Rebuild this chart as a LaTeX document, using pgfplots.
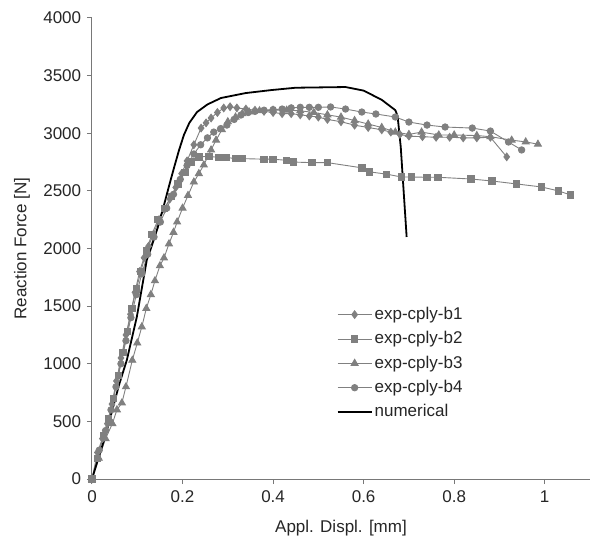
\documentclass[border=0pt]{standalone}
\usepackage{pgfplots}
\pgfplotsset{compat=1.18}
\usepackage{fontspec}
\setmainfont{Liberation Sans}
\definecolor{sgray}{RGB}{128,128,128}
\definecolor{agray}{RGB}{120,120,120}
\begin{document}
\fontsize{17}{20}\selectfont
\begin{tikzpicture}
\begin{axis}[
  scale only axis,
  width=498pt, height=461pt,
  xmin=0, xmax=1.1, ymin=0, ymax=4000,
  axis lines=left,
  axis line style={agray, line width=1pt, -},
  xtick={0,0.2,0.4,0.6,0.8,1},
  ytick={0,500,1000,1500,2000,2500,3000,3500,4000},
  xticklabels={0,0.2,0.4,0.6,0.8,1},
  yticklabels={0,500,1000,1500,2000,2500,3000,3500,4000},
  tick style={agray, line width=1pt},
  tick align=outside,
  major tick length=5pt,
  tick label style={font=\fontsize{17}{20}\selectfont, text=black!85},
  xticklabel style={yshift=-1pt},
  /pgf/number format/assume math mode=true,
  xlabel={Appl. Displ. [mm]},
  ylabel={Reaction Force [N]},
  label style={font=\fontsize{17}{20}\selectfont, text=black!85},
  xlabel style={yshift=-6pt},
  ylabel style={yshift=2pt},
  legend style={at={(axis cs:0.54,1510)}, anchor=north west, draw=none, fill=none,
    font=\fontsize{17}{20}\selectfont, text=black!85, row sep=5.5pt,
    inner sep=0pt},
  legend cell align=left,
  legend image code/.code={\draw[mark repeat=2,mark phase=2] plot coordinates {(0cm,0cm) (0.6cm,0cm) (1.2cm,0cm)};},
  clip=false,
]
\coordinate (o) at (rel axis cs:0,0);
\coordinate (t) at (rel axis cs:1,1);
\addplot[sgray, line width=0.9pt, mark=diamond*, mark size=3.8pt, mark options={fill=sgray, draw=sgray}] coordinates {
(0,0) (0.012,230) (0.023,350) (0.034,480) (0.044,650) (0.054,850) (0.064,1050) (0.075,1250) (0.085,1430) (0.095,1620) (0.105,1800) (0.115,1920) (0.125,2020) (0.135,2120) (0.148,2250) (0.16,2340) (0.172,2430) (0.185,2530) (0.198,2650) (0.21,2760) (0.225,2900) (0.241,3045) (0.252,3090) (0.263,3132) (0.277,3180) (0.291,3219) (0.305,3230) (0.32,3220) (0.34,3210) (0.36,3200) (0.38,3190) (0.40,3180) (0.42,3170) (0.44,3170) (0.46,3160) (0.48,3150) (0.50,3140) (0.52,3120) (0.55,3100) (0.58,3070) (0.61,3050) (0.64,3030) (0.66,3010) (0.68,2990) (0.70,2975) (0.73,2970) (0.76,2965) (0.79,2965) (0.82,2960) (0.85,2960) (0.88,2965) (0.916,2795)
};
\addlegendentry{exp-cply-b1}
\addplot[sgray, line width=0.9pt, mark=square*, mark size=3.2pt, mark options={fill=sgray, draw=sgray}] coordinates {
(0,0) (0.012,180) (0.025,380) (0.036,520) (0.047,700) (0.058,900) (0.068,1100) (0.078,1280) (0.088,1480) (0.098,1650) (0.108,1800) (0.12,1980) (0.132,2120) (0.146,2250) (0.16,2350) (0.175,2450) (0.19,2560) (0.205,2660) (0.22,2750) (0.236,2795) (0.258,2800) (0.28,2790) (0.296,2790) (0.318,2780) (0.331,2780) (0.38,2775) (0.40,2775) (0.43,2765) (0.445,2750) (0.486,2745) (0.52,2745) (0.596,2700) (0.613,2665) (0.651,2645) (0.684,2620) (0.706,2620) (0.74,2618) (0.764,2618) (0.837,2603) (0.883,2586) (0.938,2560) (0.993,2534) (1.03,2500) (1.057,2465)
};
\addlegendentry{exp-cply-b2}
\addplot[sgray, line width=0.9pt, mark=triangle*, mark size=4pt, mark options={fill=sgray, draw=sgray}] coordinates {
(0,0) (0.015,180) (0.03,350) (0.045,480) (0.055,600) (0.066,660) (0.075,800) (0.089,1030) (0.1,1180) (0.11,1320) (0.12,1480) (0.13,1600) (0.139,1720) (0.15,1850) (0.159,1918) (0.17,2040) (0.18,2140) (0.188,2230) (0.2,2350) (0.212,2460) (0.225,2577) (0.236,2650) (0.247,2725) (0.263,2855) (0.274,2940) (0.287,3030) (0.30,3100) (0.317,3140) (0.332,3170) (0.347,3185) (0.37,3195) (0.40,3200) (0.43,3200) (0.46,3195) (0.49,3180) (0.52,3160) (0.55,3140) (0.58,3110) (0.61,3080) (0.64,3050) (0.67,3010) (0.70,2990) (0.728,3010) (0.766,2985) (0.80,2985) (0.85,2980) (0.88,2970) (0.927,2940) (0.958,2925) (0.985,2905)
};
\addlegendentry{exp-cply-b3}
\addplot[sgray, line width=0.9pt, mark=*, mark size=3.2pt, mark options={fill=sgray, draw=sgray}] coordinates {
(0,0) (0.016,250) (0.03,420) (0.042,600) (0.053,800) (0.064,1000) (0.075,1200) (0.086,1400) (0.098,1600) (0.11,1780) (0.123,1950) (0.137,2100) (0.151,2230) (0.165,2350) (0.18,2470) (0.195,2600) (0.21,2720) (0.225,2820) (0.24,2900) (0.255,2960) (0.269,3010) (0.284,3040) (0.298,3071) (0.314,3120) (0.329,3158) (0.345,3180) (0.36,3190) (0.38,3200) (0.40,3205) (0.42,3210) (0.44,3220) (0.46,3225) (0.48,3225) (0.50,3225) (0.527,3228) (0.56,3210) (0.596,3184) (0.627,3167) (0.67,3141) (0.70,3097) (0.74,3071) (0.78,3054) (0.84,3045) (0.88,3019) (0.92,2924) (0.949,2855)
};
\addlegendentry{exp-cply-b4}
\addplot[black, line width=1.8pt, no marks] coordinates {
(0,0) (0.03,380) (0.06,820) (0.077,1033) (0.099,1406) (0.121,1900) (0.13,2000) (0.145,2180) (0.159,2377) (0.17,2540) (0.181,2698) (0.192,2850) (0.203,2985) (0.215,3090) (0.232,3184) (0.255,3250) (0.285,3306) (0.34,3349) (0.397,3375) (0.45,3395) (0.56,3401) (0.60,3370) (0.64,3290) (0.67,3200) (0.675,3150) (0.682,2880) (0.695,2100)
};
\addlegendentry{numerical}
\end{axis}
\pgfresetboundingbox
\path ([xshift=-92pt,yshift=-65pt]o) rectangle ([yshift=18pt]t);
\end{tikzpicture}
\end{document}
